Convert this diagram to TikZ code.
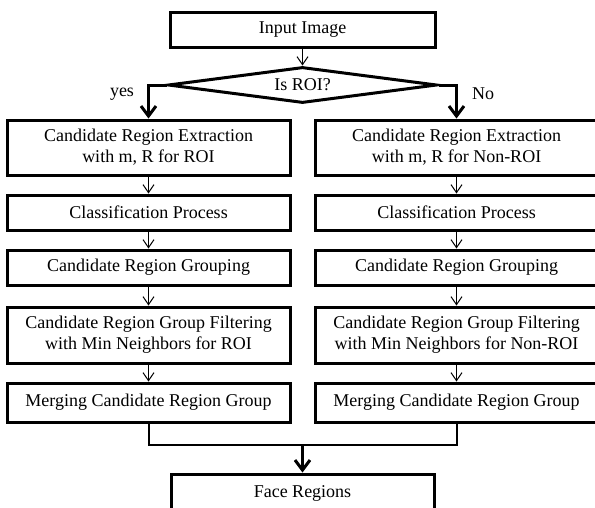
\documentclass[tikz,border=0pt]{standalone}
\usepackage{fontspec}
\setmainfont{Liberation Serif}
\usetikzlibrary{shapes.geometric,arrows.meta}

\begin{document}
\begin{tikzpicture}[x=1pt,y=-1pt,
  font=\fontsize{18}{21}\selectfont,
  box/.style={draw, line width=3pt, rectangle, align=center, inner sep=0pt, minimum width=283pt},
  decide/.style={draw, line width=3pt, diamond, aspect=7.5, inner sep=0pt, minimum width=269pt, minimum height=36pt},
  flow/.style={line width=1pt, -{Straight Barb[length=8pt,width=11pt]}},
  branch/.style={line width=3pt, -{Straight Barb[length=10pt,width=15pt]}},
  merge/.style={line width=2pt}]
\useasboundingbox (0,0) rectangle (595,507);

% Draw input and decision
\node[box, minimum width=265pt, minimum height=35pt] (inp) at (302.5,29.5) {Input Image};
\node[decide] (roi) at (302.5,85) {Is ROI?};
\draw[flow] (inp) -- (roi);

% Draw ROI column (left)
\node[box, minimum height=55pt] (l1) at (148.5,147.5) {Candidate Region Extraction\\with m, R for ROI};
\node[box, minimum height=35pt] (l2) at (148.5,212.5) {Classification Process};
\node[box, minimum height=35pt] (l3) at (148.5,267.5) {Candidate Region Grouping};
\node[box, minimum height=56pt] (l4) at (148.5,335) {Candidate Region Group Filtering\\with Min Neighbors for ROI};
\node[box, minimum height=39pt] (l5) at (148.5,402.5) {Merging Candidate Region Group};

% Draw Non-ROI column (right)
\node[box, minimum height=55pt] (r1) at (456.5,147.5) {Candidate Region Extraction\\with m, R for Non-ROI};
\node[box, minimum height=35pt] (r2) at (456.5,212.5) {Classification Process};
\node[box, minimum height=35pt] (r3) at (456.5,267.5) {Candidate Region Grouping};
\node[box, minimum height=56pt] (r4) at (456.5,335) {Candidate Region Group Filtering\\with Min Neighbors for Non-ROI};
\node[box, minimum height=39pt] (r5) at (456.5,402.5) {Merging Candidate Region Group};

% Branches from decision
\draw[branch] (roi.west) -| (l1.north);
\draw[branch] (roi.east) -| (r1.north);
\node (yes) at (122,94) {yes};
\node (no) at (483,94) {No};

% Thin arrows down each column
\draw[flow] (l1) -- (l2);
\draw[flow] (l2) -- (l3);
\draw[flow] (l3) -- (l4);
\draw[flow] (l4) -- (l5);
\draw[flow] (r1) -- (r2);
\draw[flow] (r2) -- (r3);
\draw[flow] (r3) -- (r4);
\draw[flow] (r4) -- (r5);

% Merge both columns into the result
\node[box, minimum width=263pt, minimum height=38pt] (face) at (302.5,493) {Face Regions};
\coordinate (join) at (302.5,445);
\draw[merge] (l5.south) |- (join) -| (r5.south);
\draw[branch] (join) -- (face.north);
\end{tikzpicture}
\end{document}
